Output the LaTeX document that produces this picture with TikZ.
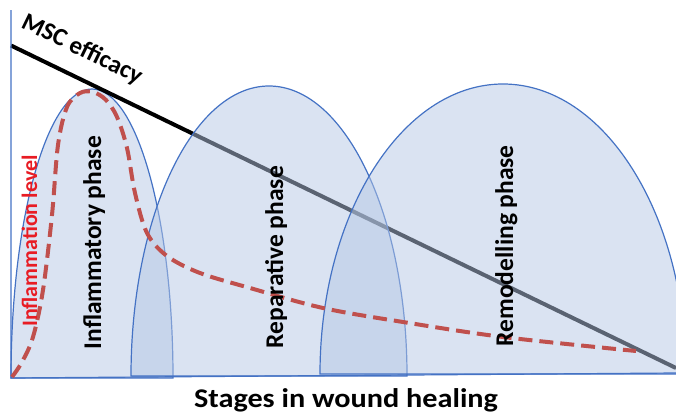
\documentclass[tikz,border=0pt]{standalone}
\usepackage{fontspec}
\setmainfont{Carlito}
\newfontfamily\widefont[FakeStretch=1.12]{Carlito}
\definecolor{archfill}{RGB}{181,199,229}
\definecolor{archline}{RGB}{68,114,196}
\definecolor{inflred}{RGB}{192,80,77}
\definecolor{lblred}{RGB}{232,28,36}
\begin{document}
\begin{tikzpicture}[x=1pt,y=-1pt,
  arch/.style={fill=archfill, fill opacity=0.5, draw=archline, draw opacity=1, line width=1.2pt},
  axisline/.style={draw=archline, line width=1.2pt},
  efficacy/.style={line width=4pt, black},
  inflcurve/.style={draw=inflred, line width=4pt, dash pattern=on 14pt off 7pt},
  phaselbl/.style={font=\bfseries\fontsize{25.5}{25.5}\selectfont, rotate=90, anchor=base west, inner sep=0pt},
]
\useasboundingbox (0,0) rectangle (676,415);
\clip (0,0) rectangle (676,415);
% arch 1: cx=92, a=81, base=378, top=89
\path[arch] (11,378) .. controls (11,218.4) and (47.3,89) .. (92,89)
   .. controls (136.7,89) and (173,218.4) .. (173,378) -- cycle;
% MSC efficacy line
\coordinate (effA) at (11,45.5);
\coordinate (effB) at (676,368);
\draw[efficacy] (effA) -- (effB);
% arch 2: cx=269, a=138, base=376, top=86
\path[arch] (131,376) .. controls (131,215.8) and (192.8,86) .. (269,86)
   .. controls (345.2,86) and (407,215.8) .. (407,376) -- cycle;
% arch 3: cx=503, a=183, base=374, top=84
\path[arch] (320,374) .. controls (320,213.8) and (401.9,84) .. (503,84)
   .. controls (604.1,84) and (686,213.8) .. (686,374) -- cycle;
% axes
\coordinate (origin) at (11,378);
\coordinate (ytop) at (11,10);
\coordinate (xend) at (676,373);
\draw[axisline] (ytop) -- (origin) -- (xend);
% inflammation curve
\draw[inflcurve] plot[smooth, tension=0.55] coordinates {
 (12,377) (22,362) (33,337) (43,290) (52,215) (58,145) (67,107) (80,93)
 (93,92) (106,100) (117,117) (127,148) (135,193) (147,233) (167,256)
 (200,273) (250,288) (323,308) (403,322) (503,337) (636,351)};
% labels
\node[font=\bfseries\fontsize{25}{25}\selectfont, rotate=-25.9, anchor=base west, inner sep=0pt] (msc) at (20,27) {MSC efficacy};
\node[phaselbl, text=lblred, font=\bfseries\fontsize{22}{22}\selectfont] (infl) at (37,327) {Inflammation level};
\node[phaselbl] (p1) at (101,349.5) {Inflammatory phase};
\node[phaselbl] (p2) at (283,348.5) {Reparative phase};
\node[phaselbl] (p3) at (513,346.5) {Remodelling phase};
\node[font=\widefont\bfseries\fontsize{27}{27}\selectfont, anchor=base, inner sep=0pt] (xlbl) at (346,407) {Stages in wound healing};
\end{tikzpicture}
\end{document}
